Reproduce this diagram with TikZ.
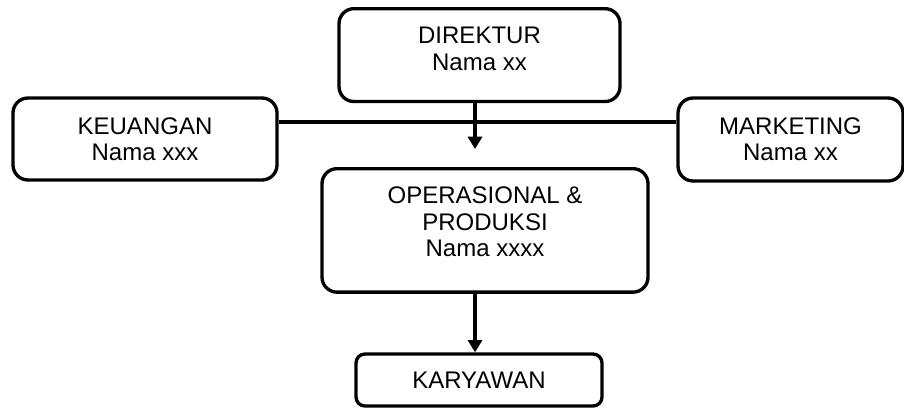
\documentclass[tikz,border=0pt]{standalone}
\usepackage{fontspec}
\setmainfont{Liberation Sans}
\usetikzlibrary{arrows.meta}

\begin{document}
\begin{tikzpicture}[line width=1.9pt]
    \tikzstyle{unit}=[draw, rounded corners=0.3cm, align=center, inner ysep=0.37cm, inner xsep=0.2cm, font=\fontsize{13.66pt}{15pt}\selectfont]
    \tikzstyle{marrs}=[-{Triangle[width=8pt,length=7pt]}]

    \useasboundingbox (0, 0) rectangle (18.08, 8.16);

    \node[unit, anchor=north, minimum width=5.62cm, text depth=0.26cm] (direktur) at (9.59, 8.02) {DIREKTUR\\Nama xx};
    \node[unit, minimum width=5.28cm, minimum height=1.64cm] (keuangan) at (2.90, 5.38) {KEUANGAN\\Nama xxx};
    \node[unit, minimum width=4.50cm, minimum height=1.66cm] (marketing) at (15.81, 5.37) {MARKETING\\Nama xx};
    \node[unit, anchor=north, minimum width=6.52cm, text depth=0.34cm] (operasional) at (9.70, 4.82) {OPERASIONAL \&\\PRODUKSI\\Nama xxxx};
    \node[unit, rounded corners=0.18cm, inner ysep=0.2cm, minimum width=4.92cm, minimum height=1.04cm] (karyawan) at (9.58, 0.56) {KARYAWAN};

    \coordinate (hub) at (9.50, 5.72);

    \draw (keuangan.east |- hub) -- (marketing.west |- hub);
    \draw[marrs, shorten >=0.36cm] (direktur.south -| hub) -- (operasional.north -| hub);
    \draw[marrs] (operasional.south -| hub) -- (karyawan.north -| hub);

\end{tikzpicture}
\end{document}
